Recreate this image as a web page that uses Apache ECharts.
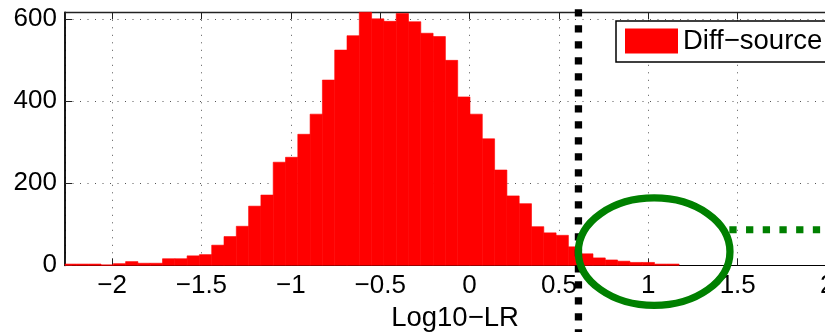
<!DOCTYPE html>
<html>
<head>
<meta charset="utf-8">
<script src="https://cdn.jsdelivr.net/npm/echarts@6/dist/echarts.min.js"></script>
<style>
  html, body { margin: 0; padding: 0; background: #fff; }
  #chart { width: 825px; height: 332px; }
</style>
</head>
<body>
<div id="chart"></div>
<script>
// Histogram of log10 likelihood ratios, different-source comparisons (50 equal bins)
const binStart = -2.268;
const binWidth = 0.0688;
const counts = [3, 3, 3, 1, 4, 9, 5, 5, 16, 16,
                23, 26, 49, 70, 95, 144, 171, 251, 263, 319,
                368, 451, 524, 559, 622, 600, 594, 613, 593, 565,
                557, 499, 410, 368, 308, 232, 169, 150, 94, 79,
                73, 45, 28, 18, 13, 10, 7, 7, 3, 3];
const xTicks = [-2, -1.5, -1, -0.5, 0, 0.5, 1, 1.5, 2];
const yTicks = [0, 200, 400, 600];
const xRange = [-2.263, 2.1];
const yRange = [0, 616];
const seriesName = 'Diff−source';
const xLabel = 'Log10−LR';

// Annotations: decision threshold, highlighted tail region, and a pointer line
const thresholdX = 0.609;
const thresholdYSpan = [623.6, -172];
const tailEllipse = [1.0325, 33.25, 0.424, 130.8];   // cx, cy, rx, ry (data units)
const pointerY = 86.7;
const pointerXSpan = [1.453, 2.4];

const FONT = '"Liberation Sans", Arial, Helvetica, sans-serif';
const fmtNum = v => String(v).replace('-', '\u2212');
const isTick = (list, v) => list.some(t => Math.abs(t - v) < 1e-9);

const barData = counts.map((c, i) => [binStart + i * binWidth, binStart + (i + 1) * binWidth, c]);

const chart = echarts.init(document.getElementById('chart'), null, { renderer: 'canvas' });

const gridLine = { show: true, lineStyle: { color: '#555', width: 1, type: [1, 6.5] } };

chart.setOption({
  animation: false,
  backgroundColor: '#fff',
  textStyle: { fontFamily: FONT },
  grid: { left: 65, top: 12.3, width: 780, height: 253, containLabel: false, outerBoundsMode: 'none' },
  legend: {
    data: [seriesName],
    left: 616, top: 21,
    orient: 'vertical',
    icon: 'rect',
    itemWidth: 53, itemHeight: 25,
    padding: [6, 12, 7, 9],
    backgroundColor: '#fff',
    borderColor: '#000', borderWidth: 1.5,
    textStyle: { fontFamily: FONT, fontSize: 27.5, color: '#000' },
    selectedMode: false
  },
  xAxis: [{
    type: 'value', position: 'bottom',
    min: xRange[0], max: xRange[1], splitNumber: 9,
    name: xLabel, nameLocation: 'middle', nameGap: 22,
    nameTextStyle: { fontFamily: FONT, fontSize: 27.5, color: '#000' },
    axisLine: { show: true, onZero: false, lineStyle: { color: '#000', width: 1.2 } },
    axisTick: { show: true, inside: true, length: 7, lineStyle: { color: '#222', width: 1 } },
    axisLabel: {
      fontFamily: FONT, fontSize: 26, color: '#000', margin: 8,
      formatter: v => isTick(xTicks, v) ? fmtNum(v) : ''
    },
    splitLine: gridLine
  }, {
    type: 'value', position: 'top',
    min: xRange[0], max: xRange[1], splitNumber: 9,
    axisLine: { show: true, onZero: false, lineStyle: { color: '#222', width: 1.3 } },
    axisTick: { show: true, inside: true, length: 7, lineStyle: { color: '#222', width: 1 } },
    axisLabel: { show: false },
    splitLine: { show: false }
  }],
  yAxis: {
    type: 'value', min: yRange[0], max: yRange[1], interval: 200,
    axisLine: { show: true, onZero: false, lineStyle: { color: '#000', width: 1.8 } },
    axisTick: { show: true, inside: true, length: 7, lineStyle: { color: '#222', width: 1 } },
    axisLabel: {
      fontFamily: FONT, fontSize: 26, color: '#000', margin: 8,
      formatter: v => isTick(yTicks, v) ? String(v) : ''
    },
    splitLine: gridLine
  },
  series: [{
    name: seriesName,
    type: 'custom',
    xAxisIndex: 0,
    itemStyle: { color: '#ff0000' },
    encode: { x: [0, 1], y: 2 },
    data: barData,
    z: 2,
    renderItem: (params, api) => {
      const p0 = api.coord([api.value(0), api.value(2)]);
      const p1 = api.coord([api.value(1), 0]);
      const shape = echarts.graphic.clipRectByRect(
        { x: p0[0], y: p0[1], width: p1[0] - p0[0], height: p1[1] - p0[1] },
        { x: params.coordSys.x, y: params.coordSys.y, width: params.coordSys.width, height: params.coordSys.height }
      );
      return shape && {
        type: 'rect', shape,
        style: { fill: '#ff0000', stroke: '#ff0000', lineWidth: 0.6 }
      };
    }
  }, {
    name: 'threshold',
    type: 'custom',
    clip: false,
    z: 3,
    data: [[thresholdX, thresholdYSpan[0], thresholdYSpan[1]]],
    renderItem: (params, api) => {
      const a = api.coord([api.value(0), api.value(1)]);
      const b = api.coord([api.value(0), api.value(2)]);
      return {
        type: 'line',
        shape: { x1: a[0], y1: a[1], x2: b[0], y2: b[1] },
        style: { stroke: '#000', lineWidth: 7.3, lineDash: [7.3, 8.7], lineCap: 'butt' }
      };
    }
  }, {
    name: 'pointer',
    type: 'custom',
    clip: false,
    z: 3,
    data: [[pointerXSpan[0], pointerXSpan[1], pointerY]],
    renderItem: (params, api) => {
      const a = api.coord([api.value(0), api.value(2)]);
      const b = api.coord([api.value(1), api.value(2)]);
      return {
        type: 'line',
        shape: { x1: a[0], y1: a[1], x2: b[0], y2: b[1] },
        style: { stroke: '#008000', lineWidth: 7, lineDash: [7.3, 9.4], lineCap: 'butt' }
      };
    }
  }, {
    name: 'tail',
    type: 'custom',
    clip: false,
    z: 4,
    data: [tailEllipse],
    renderItem: (params, api) => {
      const c = api.coord([api.value(0), api.value(1)]);
      const s = api.size([api.value(2), api.value(3)]);
      return {
        type: 'ellipse',
        shape: { cx: c[0], cy: c[1], rx: s[0], ry: s[1] },
        style: { fill: 'none', stroke: '#008000', lineWidth: 7.3 }
      };
    }
  }]
});
</script>
</body>
</html>
